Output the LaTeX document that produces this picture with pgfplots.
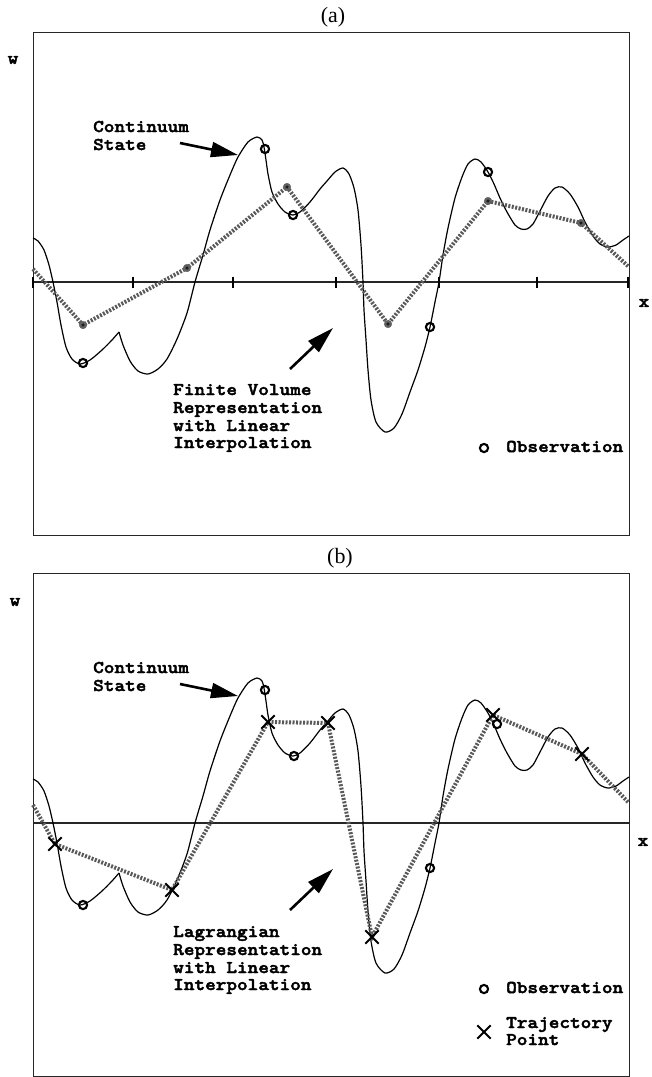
\documentclass[border=0pt]{standalone}
\usepackage{fontspec}
\usepackage{pgfplots}
\pgfplotsset{compat=1.18}
\usetikzlibrary{arrows.meta}
\setmainfont{Liberation Serif}
\newfontfamily\cmono{lmmonolt10-bold.otf}[FakeStretch=1.13, FakeBold=2.4]
\newcommand\lab{\cmono\fontsize{18}{18}\selectfont}
\newcommand\ttl{\fontsize{22}{22}\selectfont}

\pgfplotstableread{
x y
33 238
38 241
44 250
49 265
53 282
57 302
61 325
66 347
72 359
80 364
90 360
102 350
112 340
119 332
}\curveA
\pgfplotstableread{
x y
119 332
123 345
130 361
138 371
148 374
158 369
167 359
177 339
187 313
195 282
203 255
210 230
220 200
230 175
238 157
248 142
257 137
262 140
264 147
266 160
268 174
272 192
278 204
285 212
293 215
300 212
310 202
320 189
327 181
335 172
343 168
349 174
354 188
358 210
361 245
363 282
364 310
366 340
368 370
371 400
376 422
385 432
394 428
402 414
410 392
418 370
425 347
430 327
435 302
439 282
443 255
448 228
455 198
462 177
468 164
475 159
481 162
488 172
494 184
500 198
507 212
515 225
521 229
527 229
533 224
540 211
548 196
555 188
562 187
570 194
578 207
585 222
593 236
600 244
608 247
616 245
623 240
629 236
}\curveB

\tikzset{arr/.style={draw=black, line width=2.6bp, -{Triangle[length=27bp,width=15bp]}}}
\pgfplotsset{
 panel/.style={scale only axis, width=596bp, height=503bp,
   xmin=33, xmax=629, ymin=32, ymax=535, y dir=reverse,
   ticks=none, clip=false,
   axis line style={black!85, line width=1bp}},
 curve/.style={black, line width=1.2bp, smooth, tension=0.45, no marks},
 interp/.style={black!65, line width=4bp, dash pattern=on 2bp off 1.5bp, no marks},
 obs/.style={only marks, mark=o, mark size=4.1bp, mark options={line width=2.1bp, black, solid}},
 traj/.style={only marks, mark=x, mark size=9.5bp, mark options={line width=2bp, black, solid}},
 fvdot/.style={only marks, mark=*, mark size=3.8bp, mark options={fill=black!62, draw=black!62, solid}},
 fvcore/.style={only marks, mark=*, mark size=1.4bp, mark options={fill=black!90, draw=black!90, solid}},
}

\begin{document}
\begin{tikzpicture}
\useasboundingbox (0,0) rectangle (652bp,-1077bp);

% ---------------- panel (a)
\begin{axis}[panel, at={(33bp,-32bp)}, anchor=north west]
\addplot[black!85, line width=1.2bp, no marks] coordinates {(33,282) (629,282)};
\addplot[only marks, mark=|, mark size=5.5bp, mark options={line width=2bp, black}]
  coordinates {(33,282) (133,282) (233,282) (336,282) (439,282) (537,282) (628,282)};
\addplot[curve] table {\curveA};
\addplot[curve] table {\curveB};
\addplot[interp] coordinates {(33,269) (83,325) (187,268) (287,187) (388,324) (488,201) (581,223) (629,267)};
\addplot[fvdot] coordinates {(83,325) (187,268) (287,187) (388,324) (488,201) (581,223)};
\addplot[fvcore] coordinates {(83,325) (187,268) (287,187) (388,324) (488,201) (581,223)};
\addplot[obs] coordinates {(83,363) (265,149) (293,215) (430,327) (488,172)};
\addplot[obs] coordinates {(484,448)};

\node at (axis cs:333,17) {\ttl (a)};
\node at (axis cs:13,60) {\lab w};
\node at (axis cs:644,303) {\lab x};
\node[anchor=base west, inner sep=0] at (axis cs:93,132) {\lab Continuum};
\node[anchor=base west, inner sep=0] at (axis cs:93,150) {\lab State};
\draw[arr] (axis cs:180,143) -- (axis cs:238,155);
\node[anchor=base west, inner sep=0] at (axis cs:173,395) {\lab Finite Volume};
\node[anchor=base west, inner sep=0] at (axis cs:173,413) {\lab Representation};
\node[anchor=base west, inner sep=0] at (axis cs:173,431) {\lab with Linear};
\node[anchor=base west, inner sep=0] at (axis cs:173,448) {\lab Interpolation};
\draw[arr] (axis cs:290,369) -- (axis cs:333,328);
\node[anchor=base west, inner sep=0] at (axis cs:506,452) {\lab Observation};
\end{axis}

% ---------------- panel (b)
\begin{axis}[panel, at={(33bp,-573bp)}, anchor=north west]
\addplot[black!85, line width=1.2bp, no marks] coordinates {(33,282) (629,282)};
\addplot[curve] table {\curveA};
\addplot[curve] table {\curveB};
\addplot[interp] coordinates {(33,264) (55,303) (172,349) (268,181) (328,182) (372,396) (493,174) (582,213) (629,262)};
\addplot[traj] coordinates {(55,303) (172,349) (268,181) (328,182) (372,396) (493,174) (582,213)};
\addplot[obs] coordinates {(83,364) (265,149) (294,215) (430,327) (497,183)};
\addplot[obs] coordinates {(484,448)};
\addplot[traj] coordinates {(484,491)};

\node at (axis cs:340,17) {\ttl (b)};
\node at (axis cs:15,61) {\lab w};
\node at (axis cs:643,301) {\lab x};
\node[anchor=base west, inner sep=0] at (axis cs:93,132) {\lab Continuum};
\node[anchor=base west, inner sep=0] at (axis cs:93,150) {\lab State};
\draw[arr] (axis cs:180,143) -- (axis cs:238,155);
\node[anchor=base west, inner sep=0] at (axis cs:173,396) {\lab Lagrangian};
\node[anchor=base west, inner sep=0] at (axis cs:173,414) {\lab Representation};
\node[anchor=base west, inner sep=0] at (axis cs:173,432) {\lab with Linear};
\node[anchor=base west, inner sep=0] at (axis cs:173,449) {\lab Interpolation};
\draw[arr] (axis cs:290,369) -- (axis cs:333,328);
\node[anchor=base west, inner sep=0] at (axis cs:506,452) {\lab Observation};
\node[anchor=base west, inner sep=0] at (axis cs:506,487) {\lab Trajectory};
\node[anchor=base west, inner sep=0] at (axis cs:506,504) {\lab Point};
\end{axis}
\end{tikzpicture}
\end{document}
